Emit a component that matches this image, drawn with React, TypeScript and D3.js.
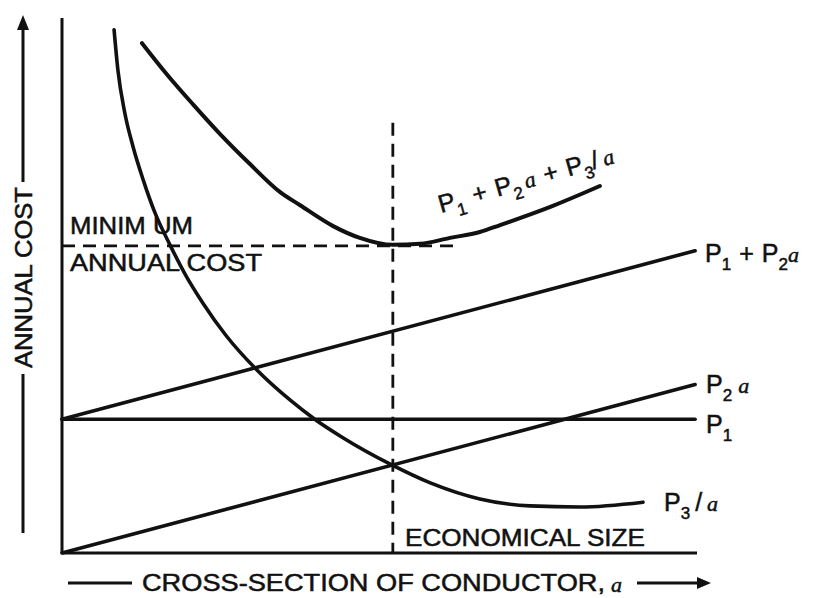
import React from "react";
import * as d3 from "d3";

const W = 814;
const H = 598;

// cross-section (0..100) vs annual cost (0..100)
const lineSection = [0, 99.7];
const p1Cost = [25, 25];
const p2aCost = [0, 31.5];
const p1p2aCost = [25, 56.5];

const p3Section = [8.2, 8.8, 9.9, 11.2, 12.8, 14.6, 17.0, 19.4, 22.2, 25.8, 30.7, 35.9, 39.8, 44.3, 51.7, 58.0, 65.8, 73.7, 81.6, 91.5];
const p3Cost = [97.8, 90.3, 82.2, 75.9, 69.7, 63.7, 57.6, 52.1, 46.7, 40.7, 34.2, 28.6, 25.0, 21.5, 16.6, 13.1, 10.1, 8.8, 8.6, 9.5];

const totalSection = [12.6, 16.5, 20.6, 24.9, 29.6, 34.3, 37.5, 42.7, 46.9, 52.1, 56.4, 61.1, 65.8, 69.0, 76.9, 84.7];
const totalCost = [95.3, 89.5, 83.9, 78.3, 72.7, 67.5, 65.0, 61.1, 58.9, 57.6, 57.8, 58.9, 60.0, 61.3, 64.7, 68.6];

const economicalSize = 52.1;
const economicalTop = 80.4;
const minimumCost = 57.4;
const minimumCostEnd = 61.6;

const SANS = "'Liberation Sans', Arial, sans-serif";
const SERIF = "'Liberation Serif', 'Times New Roman', serif";
const INK = "#111";

const App = () => {
    const x = d3.scaleLinear().domain([0, 100]).range([62, 697]);
    const y = d3.scaleLinear().domain([0, 100]).range([553, 18]);

    const straight = d3.line<[number, number]>().x(d => x(d[0])).y(d => y(d[1]));
    const smooth = d3.line<[number, number]>().x(d => x(d[0])).y(d => y(d[1])).curve(d3.curveMonotoneX);

    const pairs = (xs: number[], ys: number[]) => xs.map((v, i) => [v, ys[i]] as [number, number]);

    const sub = { fontSize: 17 };
    const ital = { fontFamily: SERIF, fontStyle: "italic" as const, fontSize: 22 };

    return (
        <svg width={W} height={H} style={{ position: "absolute", left: 0, top: 0, background: "#fff" }}
            fontFamily={SANS} fill={INK}>
            {/* axes */}
            <line x1={x(0)} y1={y(100)} x2={x(0)} y2={y(0)} stroke={INK} strokeWidth={3} />
            <line x1={x(0)} y1={y(0)} x2={x(100)} y2={y(0)} stroke={INK} strokeWidth={3} />

            {/* dashed guides */}
            <line x1={x(economicalSize)} y1={y(economicalTop)} x2={x(economicalSize)} y2={y(0)}
                stroke={INK} strokeWidth={2.8} strokeDasharray="13 8" />
            <line x1={x(0)} y1={y(minimumCost)} x2={x(minimumCostEnd)} y2={y(minimumCost)}
                stroke={INK} strokeWidth={2.8} strokeDasharray="13 8" />

            {/* cost lines */}
            <g fill="none" stroke={INK} strokeWidth={3.6} strokeLinecap="round">
                <path d={straight(pairs(lineSection, p1Cost)) || ""} />
                <path d={straight(pairs(lineSection, p2aCost)) || ""} />
                <path d={straight(pairs(lineSection, p1p2aCost)) || ""} />
                <path d={smooth(pairs(p3Section, p3Cost)) || ""} />
                <path d={smooth(pairs(totalSection, totalCost)) || ""} strokeWidth={4} />
            </g>

            {/* curve labels */}
            <g stroke={INK} strokeWidth={0.5}>
                <text x={705} y={262} fontSize={25}>
                    P<tspan dy={8} style={sub}>1</tspan>
                    <tspan dy={-8} dx={8}>+</tspan>
                    <tspan dx={8}>P</tspan><tspan dy={8} style={sub}>2</tspan>
                    <tspan dy={-8} style={ital}>a</tspan>
                </text>
                <text x={706} y={393} fontSize={25}>
                    P<tspan dy={8} style={sub}>2</tspan>
                    <tspan dy={-8} dx={6} style={ital}>a</tspan>
                </text>
                <text x={706} y={433} fontSize={25}>
                    P<tspan dy={8} style={sub}>1</tspan>
                </text>
                <text x={664} y={511} fontSize={25}>
                    P<tspan dy={8} style={sub}>3</tspan>
                    <tspan dy={-8} dx={5}>/</tspan>
                    <tspan dx={5} style={ital}>a</tspan>
                </text>
                <text transform="translate(441,213) rotate(-16)" fontSize={25}>
                    P<tspan dy={8} style={sub}>1</tspan>
                    <tspan dy={-8} dx={9}>+</tspan>
                    <tspan dx={9}>P</tspan><tspan dy={8} style={sub}>2</tspan>
                    <tspan dy={-8} dx={4} style={ital}>a</tspan>
                    <tspan dx={9}>+</tspan>
                    <tspan dx={9}>P</tspan><tspan dy={8} style={sub}>3</tspan>
                    <tspan dy={-8}>/</tspan>
                    <tspan dx={5} style={ital}>a</tspan>
                </text>

                {/* annotations */}
                <text x={70} y={234} fontSize={23} textLength={123} lengthAdjust="spacingAndGlyphs">MINIM UM</text>
                <text x={70} y={271} fontSize={23} textLength={192} lengthAdjust="spacingAndGlyphs">ANNUAL COST</text>
                <text x={405} y={546} fontSize={23} textLength={240} lengthAdjust="spacingAndGlyphs">ECONOMICAL SIZE</text>

                {/* x axis title */}
                <text x={142} y={591} fontSize={23} textLength={463} lengthAdjust="spacingAndGlyphs">CROSS-SECTION OF CONDUCTOR,</text>
                <text x={611} y={592} style={ital}>a</text>

                {/* y axis title */}
                <text transform="translate(32,368) rotate(-90)" fontSize={23} textLength={181} lengthAdjust="spacingAndGlyphs">ANNUAL COST</text>
            </g>

            <line x1={68} y1={583} x2={132} y2={583} stroke={INK} strokeWidth={3} />
            <line x1={637} y1={583} x2={700} y2={583} stroke={INK} strokeWidth={3} />
            <path d="M711,583 L697,577 L697,589 Z" />

            <line x1={23} y1={28} x2={23} y2={182} stroke={INK} strokeWidth={3} />
            <path d="M23,15 L17,30 L29,30 Z" />
            <line x1={23} y1={374} x2={23} y2={533} stroke={INK} strokeWidth={3} />
        </svg>
    );
};

export default App;
